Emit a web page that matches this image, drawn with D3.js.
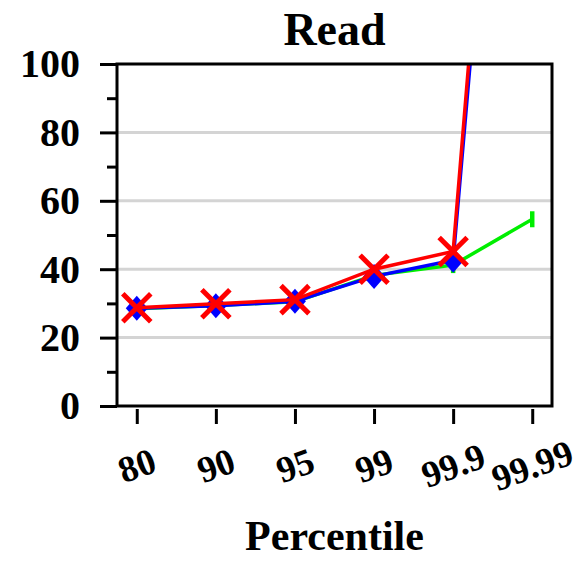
<!DOCTYPE html>
<html>
<head>
<meta charset="utf-8">
<script src="https://cdn.jsdelivr.net/npm/d3@7/dist/d3.min.js"></script>
<style>
  body { margin: 0; background: #fff; }
  text { font-family: "Liberation Serif", "Times New Roman", serif; font-weight: bold; }
</style>
</head>
<body>
<div id="chart"></div>
<script>
// percentiles on the x axis
var percentiles = ["80", "90", "95", "99", "99.9", "99.99"];
// latency per series (last two series run off the top at 99.99)
var greenValues = [28.4, 29.4, 30.5, 38.2, 41.2, 54.6];
var blueValues = [28.6, 29.3, 30.6, 37.9, 42.6, 310];
var redValues = [28.7, 29.9, 31.1, 40.0, 45.2, 325];
var yMajorTicks = [0, 20, 40, 60, 80, 100];
var yMinorTicks = [10, 30, 50, 70, 90];
var gridTicks = [20, 40, 60, 80];

var W = 578, H = 561;
var plotLeft = 117, plotRight = 552, plotTop = 64, plotBottom = 406;

var svg = d3.select("#chart").append("svg")
    .attr("width", W)
    .attr("height", H);

var x = d3.scalePoint()
    .domain(percentiles)
    .range([plotLeft, plotRight])
    .padding(0.25);

var y = d3.scaleLinear()
    .domain([0, 100])
    .range([plotBottom, plotTop]);

// clip so the runaway lines stop at the frame
svg.append("clipPath").attr("id", "plotClip")
    .append("rect")
    .attr("x", plotLeft).attr("y", plotTop)
    .attr("width", plotRight - plotLeft).attr("height", plotBottom - plotTop);

// grid
svg.append("g").selectAll("line")
    .data(gridTicks)
    .enter().append("line")
    .attr("x1", plotLeft).attr("x2", plotRight)
    .attr("y1", function(d) { return y(d); })
    .attr("y2", function(d) { return y(d); })
    .attr("stroke", "#d4d4d4")
    .attr("stroke-width", 3);

// y axis, major and minor ticks
var yAxis = svg.append("g")
    .attr("transform", "translate(" + plotLeft + ",0)")
    .call(d3.axisLeft(y).tickValues(yMajorTicks).tickSize(17).tickPadding(20));
yAxis.select(".domain").remove();
yAxis.selectAll("line").attr("stroke", "#000").attr("stroke-width", 3);
yAxis.selectAll("text").attr("font-size", "40px").attr("fill", "#000")
    .attr("font-family", "Liberation Serif, serif");

var yMinor = svg.append("g")
    .attr("transform", "translate(" + plotLeft + ",0)")
    .call(d3.axisLeft(y).tickValues(yMinorTicks).tickSize(10).tickFormat(""));
yMinor.select(".domain").remove();
yMinor.selectAll("line").attr("stroke", "#000").attr("stroke-width", 3);

// x axis sits just under the frame
var xAxis = svg.append("g")
    .attr("transform", "translate(0," + (plotBottom + 3) + ")")
    .call(d3.axisBottom(x).tickSize(15).tickFormat(""));
xAxis.select(".domain").remove();
xAxis.selectAll("line").attr("stroke", "#000").attr("stroke-width", 3);

svg.append("g").selectAll("text")
    .data(percentiles)
    .enter().append("text")
    .attr("transform", function(d) { return "translate(" + x(d) + ",465) rotate(-20)"; })
    .attr("text-anchor", "middle")
    .attr("dy", "0.35em")
    .attr("font-size", "37px")
    .text(String);

var line = d3.line()
    .x(function(d, i) { return x(percentiles[i]); })
    .y(function(d) { return y(d); });

var plot = svg.append("g").attr("clip-path", "url(#plotClip)");

function drawSeries(values, color) {
    plot.append("path")
        .datum(values)
        .attr("d", line)
        .attr("fill", "none")
        .attr("stroke", color)
        .attr("stroke-width", 3.5);
}

// green: vertical tick markers
drawSeries(greenValues, "#00ee00");
plot.append("g").selectAll("line")
    .data(greenValues)
    .enter().append("line")
    .attr("x1", function(d, i) { return x(percentiles[i]); })
    .attr("x2", function(d, i) { return x(percentiles[i]); })
    .attr("y1", function(d) { return y(d) - 8; })
    .attr("y2", function(d) { return y(d) + 8; })
    .attr("stroke", "#00ee00")
    .attr("stroke-width", 4.5);

// blue: diamonds
drawSeries(blueValues, "#0000ff");
plot.append("g").selectAll("path")
    .data(blueValues)
    .enter().append("path")
    .attr("transform", function(d, i) { return "translate(" + x(percentiles[i]) + "," + y(d) + ")"; })
    .attr("d", "M0,-12.5L11,0L0,12.5L-11,0Z")
    .attr("fill", "#0000ff");

// red: crosses
drawSeries(redValues, "#ff0000");
plot.append("g").selectAll("path")
    .data(redValues)
    .enter().append("path")
    .attr("transform", function(d, i) { return "translate(" + x(percentiles[i]) + "," + y(d) + ")"; })
    .attr("d", "M-14,-14L14,14M-14,14L14,-14")
    .attr("stroke", "#ff0000")
    .attr("stroke-width", 5);

// frame
svg.append("rect")
    .attr("x", plotLeft).attr("y", plotTop)
    .attr("width", plotRight - plotLeft).attr("height", plotBottom - plotTop)
    .attr("fill", "none")
    .attr("stroke", "#000")
    .attr("stroke-width", 3);

svg.append("text")
    .attr("x", (plotLeft + plotRight) / 2)
    .attr("y", 45)
    .attr("text-anchor", "middle")
    .attr("font-size", "46px")
    .text("Read");

svg.append("text")
    .attr("x", (plotLeft + plotRight) / 2)
    .attr("y", 550)
    .attr("text-anchor", "middle")
    .attr("font-size", "42px")
    .text("Percentile");
</script>
</body>
</html>
